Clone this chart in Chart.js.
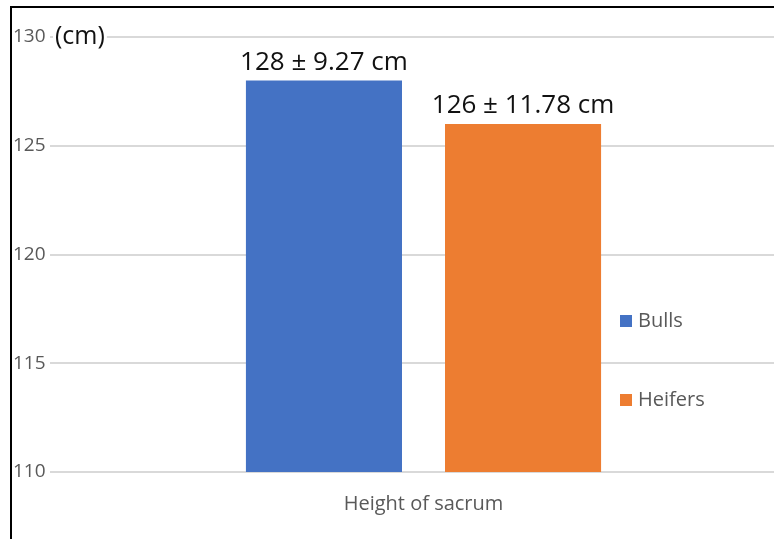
<!DOCTYPE html>
<html>
<head>
<meta charset="utf-8">
<script src="https://cdn.jsdelivr.net/npm/chart.js@4.4.0/dist/chart.umd.min.js"></script>
<style>
  html, body { margin: 0; padding: 0; background: #fff; overflow: hidden; }
  #wrap { position: relative; width: 797px; height: 539px; }
</style>
</head>
<body>
<div id="wrap"><canvas id="sacrumChart"></canvas></div>
<script>
// Chart data
const categories = ['Height of sacrum'];
const seriesNames = ['Bulls', 'Heifers'];
const bullsValues = [128];
const heifersValues = [126];
const bullsSd = [9.27];
const heifersSd = [11.78];
const yTicks = [110, 115, 120, 125, 130];
const seriesColors = ['#4472C4', '#ED7D31'];
const sdSets = [bullsSd, heifersSd];

const fontFamily = '"Open Sans", "Noto Sans", sans-serif';

// Black frame lines (left and top) from the original figure crop
const framePlugin = {
    id: 'frame',
    afterDraw(chart) {
        const ctx = chart.ctx;
        ctx.save();
        ctx.strokeStyle = '#000';
        ctx.lineWidth = 2;
        ctx.beginPath();
        ctx.moveTo(11, 6);
        ctx.lineTo(11, chart.height);
        ctx.moveTo(10, 7);
        ctx.lineTo(chart.width, 7);
        ctx.stroke();
        ctx.restore();
    }
};

// "value ± sd cm" labels above bars, plus the "(cm)" unit
const labelPlugin = {
    id: 'barLabels',
    afterDatasetsDraw(chart) {
        const ctx = chart.ctx;
        ctx.save();
        ctx.font = '26px ' + fontFamily;
        ctx.fillStyle = '#111';
        ctx.textAlign = 'center';
        ctx.textBaseline = 'middle';
        chart.data.datasets.forEach((ds, i) => {
            chart.getDatasetMeta(i).data.forEach((bar, j) => {
                ctx.fillText(`${ds.data[j]} ± ${sdSets[i][j]} cm`, bar.x, bar.y - 18);
            });
        });

        // unit label sitting on the top gridline
        const y = chart.scales.y.getPixelForValue(yTicks[yTicks.length - 1]);
        const x = chart.chartArea.left + 5;
        ctx.font = '25px ' + fontFamily;
        ctx.textAlign = 'left';
        const w = ctx.measureText('(cm)').width;
        ctx.fillStyle = '#fff';
        ctx.fillRect(x - 2, y - 13, w + 4, 26);
        ctx.fillStyle = '#111';
        ctx.fillText('(cm)', x, y);
        ctx.restore();
    }
};

// Legend drawn inside the plot on the right
const legendPlugin = {
    id: 'insideLegend',
    afterDraw(chart) {
        const ctx = chart.ctx;
        const area = chart.chartArea;
        ctx.save();
        ctx.font = '20px ' + fontFamily;
        ctx.textBaseline = 'middle';
        ctx.textAlign = 'left';
        chart.data.datasets.forEach((ds, i) => {
            const y = area.top + 284 + i * 79;
            ctx.fillStyle = ds.backgroundColor;
            ctx.fillRect(area.left + 570, y - 6, 12, 12);
            ctx.fillStyle = '#595959';
            ctx.fillText(ds.label, area.left + 588, y);
        });
        ctx.restore();
    }
};

const ctx = document.getElementById('sacrumChart').getContext('2d');

new Chart(ctx, {
    type: 'bar',
    data: {
        labels: categories,
        datasets: [
            { label: seriesNames[0], data: bullsValues, backgroundColor: seriesColors[0] },
            { label: seriesNames[1], data: heifersValues, backgroundColor: seriesColors[1] }
        ]
    },
    options: {
        responsive: true,
        maintainAspectRatio: false,
        animation: false,
        categoryPercentage: 0.533,
        barPercentage: 0.784,
        layout: { padding: { left: 13, top: 37, right: 0, bottom: 0 } },
        scales: {
            y: {
                min: yTicks[0],
                max: yTicks[yTicks.length - 1],
                ticks: {
                    stepSize: 5,
                    color: '#595959',
                    font: { family: fontFamily, size: 19 },
                    crossAlign: 'far',
                    padding: 0
                },
                grid: { color: '#d9d9d9', lineWidth: 2, drawTicks: false },
                border: { display: false },
                afterFit: (scale) => { scale.width = 37; }
            },
            x: {
                ticks: {
                    color: '#595959',
                    font: { family: fontFamily, size: 20 },
                    padding: 20
                },
                grid: { display: false, drawTicks: false },
                border: { display: false },
                afterFit: (scale) => { scale.height = 67; }
            }
        },
        plugins: {
            legend: { display: false },
            tooltip: { enabled: false }
        }
    },
    plugins: [framePlugin, labelPlugin, legendPlugin]
});
</script>
</body>
</html>
